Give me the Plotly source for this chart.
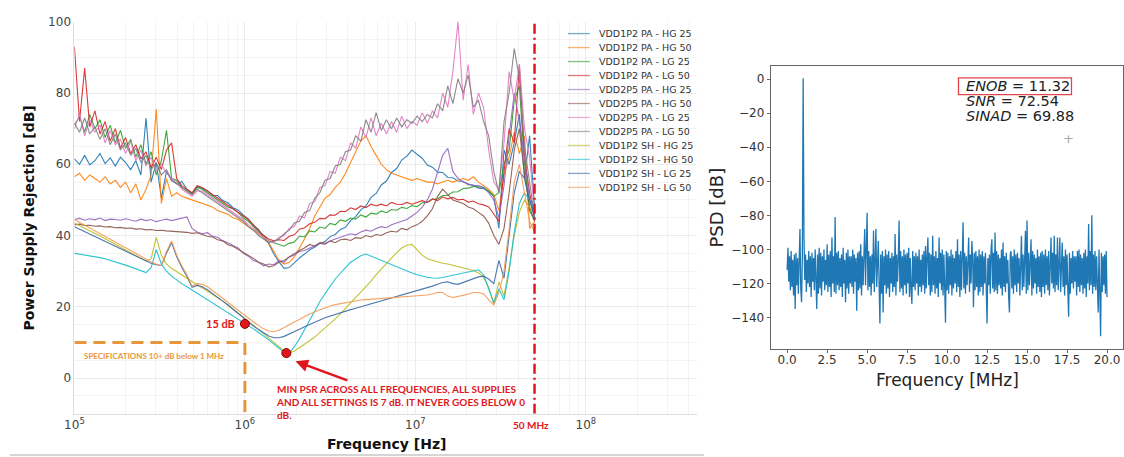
import math
import plotly.graph_objects as go

# ---------------- Left chart: PSR vs frequency ----------------
# frequency grid (log10 of Hz) on which the curves were read off the picture
LOG_FREQ = [round(5.0 + 0.03 * i, 2) for i in range(91)]

VDD1P2_PA_HG25 = [61.5, 60.0, 62.5, 59.8, 61.0, 63.0, 60.2, 61.8, 59.5, 62.0,
                  60.5, 58.5, 61.0, 57.0, 73.0, 55.0, 60.5, 50.5, 58.0, 55.5,
                  54.5, 55.2, 53.0, 51.8, 53.8, 53.2, 52.6, 51.3, 51.2, 49.8,
                  49.2, 47.8, 47.2, 45.8, 44.7, 42.8, 41.7, 39.3, 37.7, 34.8,
                  32.6, 30.8, 31.0, 32.3, 33.7, 34.8, 36.0, 36.8, 37.8, 38.3,
                  39.7, 40.3, 41.7, 42.3, 44.2, 45.3, 47.2, 48.3, 50.7, 51.8,
                  54.2, 55.3, 57.7, 58.8, 61.2, 62.3, 64.0, 62.8, 61.7, 59.8,
                  59.2, 57.8, 57.7, 56.3, 56.2, 55.3, 55.2, 54.3, 54.2, 53.3,
                  53.2, 52.3, 51.0, 42.0, 64.0, 60.0, 66.0, 74.0, 56.0, 68.0,
                  47.0]
VDD1P2_PA_HG50 = [56.5, 57.5, 55.5, 57.0, 56.0, 55.0, 56.5, 54.5, 55.5, 53.5,
                  55.0, 52.0, 54.5, 50.0, 53.0, 57.0, 75.5, 49.0, 56.0, 51.0,
                  52.0, 51.0, 50.5, 50.0, 49.5, 49.0, 48.5, 48.0, 47.0, 46.5,
                  46.0, 45.0, 44.5, 43.5, 42.5, 41.5, 40.5, 39.5, 38.0, 35.5,
                  33.0, 32.0, 32.5, 34.0, 36.5, 39.0, 42.0, 45.5, 48.0, 50.5,
                  51.5, 53.5, 55.0, 57.5, 60.5, 63.5, 66.5, 68.0, 65.0, 62.5,
                  60.0, 58.5, 57.5, 57.0, 56.5, 56.0, 55.5, 56.0, 55.5, 55.0,
                  55.0, 54.5, 55.0, 55.5, 55.0, 55.5, 56.0, 55.5, 56.5, 55.0,
                  54.0, 53.0, 51.5, 47.0, 57.0, 62.0, 69.0, 63.0, 68.0, 42.0,
                  44.0]
VDD1P2_PA_LG25 = [71.0, 73.5, 69.0, 74.0, 70.0, 72.5, 67.5, 71.0, 66.0, 69.5,
                  64.5, 67.0, 62.0, 65.5, 60.0, 63.5, 57.0, 61.0, 69.5, 56.0,
                  55.5, 53.5, 52.5, 51.5, 53.5, 53.0, 52.0, 51.0, 50.0, 49.0,
                  48.0, 47.5, 46.5, 45.0, 44.0, 42.5, 41.0, 40.0, 38.5, 38.0,
                  37.5, 37.0, 37.8, 38.2, 39.8, 39.6, 41.3, 41.0, 42.4, 42.0,
                  43.4, 43.0, 44.4, 44.0, 44.9, 44.6, 45.8, 45.2, 46.3, 46.0,
                  46.9, 46.4, 47.3, 47.1, 47.9, 47.6, 48.4, 48.1, 49.2, 49.3,
                  50.2, 50.3, 51.2, 51.3, 52.2, 52.3, 53.2, 53.3, 53.8, 53.7,
                  53.5, 52.5, 51.0, 52.0, 60.0, 64.0, 78.0, 82.0, 60.0, 47.0,
                  44.0]
VDD1P2_PA_LG50 = [93.0, 72.0, 87.0, 70.5, 75.0, 68.5, 72.0, 66.5, 70.0, 64.5,
                  67.5, 63.0, 65.5, 61.5, 63.5, 59.0, 62.0, 58.5, 64.0, 66.0,
                  56.0, 54.0, 53.0, 52.0, 54.0, 53.5, 52.5, 51.5, 50.5, 49.5,
                  48.5, 47.5, 46.5, 45.5, 44.5, 43.0, 41.5, 40.0, 39.0, 38.5,
                  38.8, 38.6, 39.8, 40.2, 41.8, 42.2, 43.3, 43.7, 44.8, 44.7,
                  45.8, 45.7, 46.8, 46.7, 47.8, 47.3, 48.3, 47.8, 48.8, 48.3,
                  48.8, 48.3, 49.3, 48.8, 48.7, 49.3, 48.8, 49.3, 49.8, 49.3,
                  50.3, 49.8, 50.8, 50.3, 50.7, 50.0, 50.2, 49.4, 49.7, 48.9,
                  48.6, 48.0, 46.0, 44.0, 58.0, 70.0, 66.0, 88.0, 62.0, 52.0,
                  45.0]
VDD2P5_PA_HG25 = [44.5, 44.8, 44.3, 44.7, 44.4, 44.9, 44.2, 44.6, 44.5, 44.3,
                  44.7, 44.4, 44.0, 44.6, 44.2, 44.5, 43.9, 44.3, 44.6, 44.2,
                  44.5, 44.8, 45.2, 42.0, 41.0, 40.5, 40.8, 39.8, 39.5, 38.5,
                  38.0, 37.2, 36.5, 35.0, 34.2, 33.0, 32.5, 31.5, 32.0, 31.8,
                  33.0, 32.5, 34.0, 34.5, 35.5, 35.8, 36.5, 37.0, 37.8, 37.5,
                  38.5, 39.0, 39.5, 40.0, 40.5, 40.2, 41.0, 41.5, 41.2, 42.0,
                  42.5, 42.2, 43.0, 43.5, 44.0, 44.5, 45.5, 46.5, 48.0, 50.0,
                  53.0, 58.0, 62.5, 64.5, 58.0, 56.0, 55.0, 54.5, 54.0, 54.0,
                  53.5, 52.0, 50.0, 45.0, 54.0, 68.0, 80.0, 72.0, 62.0, 50.0,
                  45.0]
VDD2P5_PA_HG50 = [43.0, 43.2, 42.8, 42.9, 42.6, 42.7, 42.4, 42.5, 42.2, 42.3,
                  42.0, 42.1, 41.8, 41.9, 41.6, 41.7, 41.4, 41.5, 41.3, 41.2,
                  41.0, 41.1, 40.9, 40.6, 40.8, 40.3, 39.8, 39.6, 38.8, 38.5,
                  37.4, 37.0, 36.2, 35.3, 34.5, 33.6, 32.5, 32.0, 31.2, 31.5,
                  32.5, 33.0, 34.0, 35.0, 35.8, 36.5, 37.5, 37.0, 38.0, 37.8,
                  38.5, 38.0, 38.8, 39.0, 38.6, 39.4, 39.2, 40.0, 39.6, 40.3,
                  40.0, 40.8, 41.2, 41.0, 42.0, 41.6, 42.5, 43.0, 44.0, 45.5,
                  47.5, 51.0, 53.0, 51.5, 50.0, 49.5, 49.0, 48.0, 47.5, 46.5,
                  45.5, 43.5, 40.0, 37.5, 42.0, 52.0, 64.0, 70.0, 57.0, 48.0,
                  44.0]
VDD2P5_PA_LG25 = [70.0, 74.0, 68.0, 72.5, 69.0, 71.0, 66.0, 69.5, 65.5, 67.0,
                  63.0, 66.5, 61.0, 64.0, 59.5, 62.0, 58.0, 60.0, 57.5, 56.0,
                  55.0, 53.0, 52.0, 51.0, 52.5, 52.5, 51.5, 50.5, 49.5, 48.5,
                  47.5, 46.5, 45.5, 44.5, 43.0, 42.0, 40.5, 39.5, 38.5, 38.0,
                  39.5, 40.0, 42.0, 42.5, 45.5, 45.0, 49.0, 49.5, 53.5, 54.0,
                  58.0, 57.5, 62.0, 61.0, 66.0, 64.5, 70.5, 67.5, 73.0, 68.0,
                  71.5, 68.5, 72.0, 69.0, 73.5, 70.0, 72.0, 71.0, 74.5, 71.5,
                  75.0, 73.0, 80.0, 76.0, 86.0, 100.0, 78.0, 88.0, 74.0, 80.0,
                  76.0, 64.0, 55.0, 53.0, 66.0, 86.0, 78.0, 88.0, 70.0, 62.0,
                  46.0]
VDD2P5_PA_LG50 = [71.5, 69.0, 73.0, 68.5, 70.5, 67.0, 70.0, 65.5, 68.5, 64.0,
                  66.0, 62.5, 64.5, 60.5, 62.5, 58.5, 60.5, 57.0, 58.5, 55.5,
                  54.5, 53.5, 52.5, 51.5, 53.0, 52.0, 51.0, 50.0, 49.0, 48.0,
                  47.0, 46.0, 45.0, 44.0, 42.5, 41.5, 40.0, 39.0, 38.0, 38.5,
                  39.0, 40.5, 41.5, 43.5, 44.0, 46.5, 47.0, 50.5, 52.0, 55.5,
                  56.0, 59.5, 60.0, 63.5, 64.0, 68.0, 66.5, 72.5, 69.0, 74.5,
                  69.5, 72.5, 70.0, 73.0, 70.5, 72.5, 71.5, 73.5, 72.0, 74.0,
                  73.0, 77.0, 75.0, 82.0, 77.0, 84.0, 80.0, 85.0, 76.0, 78.0,
                  72.0, 68.0, 58.0, 52.0, 72.0, 80.0, 92.5, 84.0, 65.0, 55.0,
                  45.0]
VDD1P2_SH_HG25 = [43.5, 42.8, 42.0, 41.3, 40.6, 39.9, 39.1, 38.3, 37.5, 36.7,
                  36.0, 35.2, 34.4, 33.6, 32.8, 33.5, 39.5, 34.5, 32.0, 30.8,
                  29.8, 28.9, 28.0, 27.1, 26.2, 25.4, 24.5, 23.6, 22.6, 21.6,
                  20.5, 19.4, 18.3, 17.2, 16.0, 14.8, 13.6, 12.4, 11.2, 10.0,
                  8.8, 7.6, 7.0, 7.6, 8.5, 9.5, 10.5, 11.5, 12.8, 14.0,
                  15.3, 16.6, 18.0, 19.5, 21.0, 22.5, 24.0, 25.5, 27.2, 29.0,
                  30.6, 32.2, 33.8, 35.2, 36.5, 37.3, 37.5, 36.0, 34.5, 33.5,
                  33.0, 32.6, 32.2, 32.0, 31.6, 31.3, 31.0, 30.6, 30.2, 29.5,
                  28.3, 25.5, 21.0, 27.0, 23.0, 31.0, 40.0, 46.5, 50.0, 48.0,
                  46.0]
VDD1P2_SH_HG50 = [35.0, 34.8, 34.6, 34.4, 34.1, 33.8, 33.5, 33.1, 32.7, 32.2,
                  31.7, 31.2, 30.6, 30.0, 29.6, 31.0, 36.0, 32.0, 30.0, 28.6,
                  27.5, 26.5, 25.6, 24.7, 23.8, 23.0, 22.1, 21.2, 20.3, 19.4,
                  18.5, 17.6, 16.7, 15.8, 14.8, 13.8, 12.8, 11.8, 10.7, 9.5,
                  8.3, 7.2, 7.0, 8.8, 11.0, 13.5, 16.2, 18.8, 21.5, 23.8,
                  25.8, 27.8, 29.5, 31.0, 32.5, 33.5, 34.3, 34.8, 34.2, 33.5,
                  33.0, 32.3, 31.8, 31.2, 30.5, 30.0, 29.5, 29.0, 28.6, 28.3,
                  28.1, 28.0, 28.2, 28.5, 28.8, 29.2, 29.5, 29.8, 30.2, 30.4,
                  29.0, 25.0, 21.0, 25.0, 22.0, 30.0, 41.0, 49.0, 52.0, 50.0,
                  47.0]
VDD1P2_SH_LG25 = [42.5, 41.8, 41.1, 40.4, 39.7, 39.0, 38.3, 37.6, 36.9, 36.2,
                  35.5, 34.8, 34.1, 33.4, 32.8, 32.2, 31.8, 31.6, 35.0, 38.0,
                  34.0, 31.0, 28.5, 25.5, 26.0, 25.6, 24.8, 23.8, 22.7, 21.6,
                  20.5, 19.3, 18.1, 16.9, 15.7, 14.6, 13.6, 12.6, 11.8, 11.3,
                  11.3, 11.7, 12.3, 13.0, 13.7, 14.4, 15.1, 15.7, 16.3, 16.9,
                  17.4, 17.9, 18.4, 18.8, 19.2, 19.6, 20.0, 20.4, 20.8, 21.2,
                  21.6, 22.0, 22.4, 22.8, 23.2, 23.6, 24.0, 24.4, 24.8, 25.3,
                  25.8, 26.3, 26.8, 27.0, 26.5, 26.3, 26.8, 27.4, 28.0, 28.4,
                  28.6, 27.8, 26.5, 33.0, 28.0, 40.0, 52.0, 58.0, 56.0, 50.0,
                  45.0]
VDD1P2_SH_LG50 = [44.5, 43.7, 42.9, 42.1, 41.3, 40.5, 39.7, 38.9, 38.1, 37.3,
                  36.5, 35.7, 34.9, 34.1, 33.3, 32.6, 32.0, 31.6, 35.5, 38.5,
                  34.5, 31.5, 29.0, 25.8, 26.5, 26.3, 25.6, 24.6, 23.5, 22.4,
                  21.2, 20.1, 19.0, 17.8, 16.7, 15.6, 14.7, 13.8, 13.2, 13.0,
                  13.4, 14.2, 15.0, 15.8, 16.6, 17.3, 18.0, 18.6, 19.2, 19.7,
                  20.2, 20.6, 20.9, 21.2, 21.5, 21.7, 21.9, 22.0, 22.1, 22.2,
                  22.3, 22.4, 22.5, 22.6, 22.7, 22.8, 22.9, 23.0, 23.1, 23.3,
                  23.6, 24.0, 24.0, 23.0, 22.6, 22.8, 23.2, 23.6, 24.0, 24.0,
                  23.6, 22.0, 20.5, 24.0, 30.0, 42.0, 55.0, 60.0, 52.0, 44.0,
                  41.0]

SERIES_NAMES = ["VDD1P2 PA - HG 25", "VDD1P2 PA - HG 50", "VDD1P2 PA - LG 25",
                "VDD1P2 PA - LG 50", "VDD2P5 PA - HG 25", "VDD2P5 PA - HG 50",
                "VDD2P5 PA - LG 25", "VDD2P5 PA - LG 50", "VDD1P2 SH - HG 25",
                "VDD1P2 SH - HG 50", "VDD1P2 SH - LG 25", "VDD1P2 SH - LG 50"]
SERIES_VALUES = [VDD1P2_PA_HG25, VDD1P2_PA_HG50, VDD1P2_PA_LG25, VDD1P2_PA_LG50,
                 VDD2P5_PA_HG25, VDD2P5_PA_HG50, VDD2P5_PA_LG25, VDD2P5_PA_LG50,
                 VDD1P2_SH_HG25, VDD1P2_SH_HG50, VDD1P2_SH_LG25, VDD1P2_SH_LG50]
SERIES_COLORS = ["#1f77b4", "#ff7f0e", "#2ca02c", "#d62728", "#9467bd", "#8c564b",
                 "#e377c2", "#7f7f7f", "#bcbd22", "#17becf", "#3b6aa8", "#f39a55"]

# highlighted points / limits
MARK_FREQ = [1.0e6, 1.75e6]
MARK_PSR = [15.2, 7.0]
SPEC_FREQ = [1.0e5, 1.0e6, 1.0e6]
SPEC_PSR = [10, 10, -10]
LIMIT_FREQ = [5.0e7, 5.0e7]
LIMIT_PSR = [-10, 100]

# ---------------- Right chart: PSD ----------------
PSD_FREQ_MHZ = [round(0.05 * i, 2) for i in range(401)]
PSD_DB = [
    -112, -99, -119, -104, -124, -101, -122, -106, -127, -103, -135, -102, -121, -105, -126, -101, -88, -123, -131, -104,
    0.5, -92, -118, -103, -125, -106, -120, -101, -122, -104, -128, -102, -119, -105, -124, -100, -121, -135, -103, -126,
    -99, -123, -102, -127, -104, -119, -100, -124, -106, -121, -97, -125, -103, -122, -101, -128, -93, -120, -104, -125,
    -81, -126, -102, -121, -101, -124, -105, -122, -103, -128, -99, -120, -106, -131, -102, -123, -100, -126, -104, -120,
    -104, -122, -100, -126, -103, -119, -105, -136, -102, -124, -101, -123, -97, -127, -104, -121, -103, -88, -121, -100,
    -78.5, -124, -101, -122, -104, -127, -103, -120, -89, -125, -102, -88, -122, -105, -95, -121, -143.5, -103, -126, -101,
    -137, -104, -121, -100, -126, -103, -123, -101, -128, -105, -120, -102, -125, -104, -122, -91, -127, -103, -119, -106,
    -83, -125, -101, -123, -104, -127, -100, -121, -103, -126, -102, -120, -99, -128, -105, -124, -132, -101, -122, -104,
    -124, -102, -120, -104, -127, -100, -122, -106, -125, -103, -121, -101, -126, -98, -123, -104, -93, -121, -102, -127,
    -103, -125, -92, -121, -104, -126, -101, -123, -105, -128, -93, -120, -102, -124, -100, -127, -103, -122, -143, -101,
    -124, -102, -126, -104, -121, -100, -127, -103, -123, -105, -120, -101, -125, -94, -122, -103, -128, -101, -124, -104,
    -84, -123, -102, -126, -104, -121, -100, -93, -125, -103, -120, -95, -106, -134, -102, -124, -101, -122, -104, -127,
    -100, -125, -103, -122, -101, -127, -104, -120, -102, -124, -143.5, -105, -121, -103, -126, -100, -94, -123, -102, -125,
    -90, -124, -101, -126, -103, -121, -105, -123, -100, -127, -96, -122, -104, -125, -102, -120, -106, -128, -137, -103,
    -101, -123, -104, -126, -100, -121, -103, -125, -102, -120, -105, -127, -101, -92, -124, -103, -122, -100, -89, -126,
    -83, -124, -102, -121, -104, -94, -127, -101, -123, -103, -120, -105, -126, -100, -122, -104, -125, -102, -128, -101,
    -122, -103, -126, -100, -121, -104, -124, -101, -127, -105, -93, -120, -102, -123, -92, -125, -103, -121, -93, -124,
    -102, -93, -125, -101, -96, -122, -104, -127, -100, -121, -103, -124, -139.5, -102, -126, -105, -120, -101, -123, -104,
    -119, -104, -127, -101, -122, -100, -125, -103, -121, -105, -126, -102, -123, -100, -128, -104, -120, -85, -124, -101,
    -121, -80, -126, -103, -122, -101, -124, -104, -127, -137, -100, -123, -151, -102, -125, -104, -121, -103, -126, -101,
    -128]

W, H = 1124, 457


def px(x):
    return x / W


def py(y):
    return 1 - y / H


fig = go.Figure()

freq_hz = [10 ** e for e in LOG_FREQ]
for name, vals, col in zip(SERIES_NAMES, SERIES_VALUES, SERIES_COLORS):
    fig.add_trace(go.Scatter(x=freq_hz, y=vals, mode="lines", name=name,
                             line=dict(color=col, width=1.1), opacity=0.9,
                             xaxis="x", yaxis="y", showlegend=False))

fig.add_trace(go.Scatter(x=SPEC_FREQ, y=SPEC_PSR, mode="lines", showlegend=False,
                         line=dict(color="#e8963c", width=3, dash="12px,7px"),
                         xaxis="x", yaxis="y"))
fig.add_trace(go.Scatter(x=LIMIT_FREQ, y=LIMIT_PSR, mode="lines", showlegend=False,
                         line=dict(color="#e0161c", width=2.5, dash="10px,4px,2px,4px"),
                         xaxis="x", yaxis="y", cliponaxis=False))
fig.add_trace(go.Scatter(x=MARK_FREQ, y=MARK_PSR, mode="markers", showlegend=False,
                         marker=dict(color="#e0161c", size=9,
                                     line=dict(color="#8b0000", width=1)),
                         xaxis="x", yaxis="y"))

fig.add_trace(go.Scatter(x=PSD_FREQ_MHZ, y=PSD_DB, mode="lines", showlegend=False,
                         line=dict(color="#1f77b4", width=1.3),
                         xaxis="x2", yaxis="y2"))

RED = "#e0161c"
ORANGE = "#e8963c"
anns = []
shapes = []


def ptext(text, x, y, size, color="#222", family="DejaVu Sans", xa="center",
          ya="middle", angle=0):
    anns.append(dict(text=text, xref="paper", yref="paper", x=px(x), y=py(y),
                     xanchor=xa, yanchor=ya, textangle=angle, showarrow=False,
                     font=dict(family=family, size=size, color=color)))


# manual legend
for k, (name, col) in enumerate(zip(SERIES_NAMES, SERIES_COLORS)):
    yc = 27 + k * 14.2
    shapes.append(dict(type="line", xref="paper", yref="paper",
                       x0=px(563), x1=px(585), y0=py(yc), y1=py(yc),
                       line=dict(color=col, width=1.3), opacity=0.6))
    ptext(name, 592, yc, 9.5, color="#333", xa="left")

# left chart texts
ptext("<b>Power Supply Rejection [dB]</b>", 19, 214, 14, color="#111", angle=-90)
ptext("<b>Frequency [Hz]</b>", 380, 444, 14, color="#111")
anns.append(dict(text="<b>15 dB</b>", xref="x", yref="y", x=6.0, y=15.2,
                 xanchor="right", yanchor="middle", xshift=-8, showarrow=False,
                 font=dict(family="Lato", size=11, color=RED)))
anns.append(dict(text="<b>SPECIFICATIONS 10+ dB below 1 MHz</b>", xref="x", yref="y",
                 x=5.047, y=6.3, xanchor="left", yanchor="middle", showarrow=False,
                 font=dict(family="Lato", size=8, color=ORANGE)))
anns.append(dict(text="", xref="x", yref="y", x=6.297, y=4.7, axref="x", ayref="y",
                 ax=6.61, ay=-0.8, showarrow=True, arrowhead=2, arrowsize=1,
                 arrowwidth=2.5, arrowcolor=RED))
anns.append(dict(text="<b>MIN PSR ACROSS ALL FREQUENCIES, ALL SUPPLIES<br>"
                      "AND ALL SETTINGS IS 7 dB. IT NEVER GOES BELOW 0<br>dB.</b>",
                 xref="x", yref="paper", x=6.169, y=py(380), xanchor="left",
                 yanchor="top", align="left", showarrow=False,
                 font=dict(family="Lato", size=10, color=RED)))
anns.append(dict(text="<b>50 MHz</b>", xref="x", yref="paper", x=math.log10(5e7),
                 xshift=-4, y=py(425), xanchor="center", yanchor="middle",
                 showarrow=False, font=dict(family="Lato", size=10, color=RED)))

# right chart texts
ptext("PSD [dB]", 713, 204, 18, angle=-90)
ptext("Frequency [MHz]", 946, 379, 17)
for txt, yc in [("<i>ENOB</i> = 11.32", 80.5), ("<i>SNR</i> = 72.54", 95.5),
                ("<i>SINAD</i> = 69.88", 110.5)]:
    ptext(txt, 963, yc, 14.5, xa="left")
ptext("+", 1068, 134, 13, color="#aaa")
shapes.append(dict(type="rect", xref="paper", yref="paper", x0=px(957), x1=px(1071),
                   y0=py(89), y1=py(72), line=dict(color="#e0454b", width=1.3)))
shapes.append(dict(type="line", xref="paper", yref="paper", x0=0, x1=px(700),
                   y0=py(455), y1=py(455), line=dict(color="#d5d5d5", width=2)))

fig.update_layout(
    width=W, height=H, margin=dict(l=0, r=0, t=0, b=0),
    paper_bgcolor="white", plot_bgcolor="white", showlegend=False,
    annotations=anns, shapes=shapes,
    xaxis=dict(domain=[px(65), px(693)], type="log", range=[5, 8.651], anchor="y",
               tickvals=[1e5, 1e6, 1e7, 1e8],
               ticktext=["10<sup>5</sup>", "10<sup>6</sup>", "10<sup>7</sup>", "10<sup>8</sup>"],
               showgrid=True, gridcolor="#ebebeb", gridwidth=1,
               minor=dict(showgrid=True, gridcolor="#f3f3f3", ticks="", dtick="D1"),
               showline=True, linecolor="#dddddd", zeroline=False, ticks="",
               tickfont=dict(family="DejaVu Sans", size=12, color="#444")),
    yaxis=dict(domain=[py(413), py(15)], range=[-10, 100], anchor="x",
               tickvals=[0, 20, 40, 60, 80, 100],
               showgrid=True, gridcolor="#ebebeb", gridwidth=1,
               minor=dict(showgrid=True, gridcolor="#f3f3f3", dtick=5, ticks=""),
               showline=True, linecolor="#dddddd", zeroline=False, ticks="",
               tickfont=dict(family="DejaVu Sans", size=12, color="#444")),
    xaxis2=dict(domain=[px(768), px(1123)], range=[-1, 21], anchor="y2",
                tick0=0, dtick=2.5, tickformat=".1f", showgrid=False,
                showline=True, mirror=True, linecolor="#666", linewidth=1,
                ticks="outside", ticklen=3.5, tickcolor="#666", zeroline=False,
                ticklabelstandoff=-4,
                tickfont=dict(family="DejaVu Sans", size=12, color="#333")),
    yaxis2=dict(domain=[py(347), py(60)], range=[-158.3, 7.7], anchor="x2",
                tick0=0, dtick=20, showgrid=False,
                showline=True, mirror=True, linecolor="#666", linewidth=1,
                ticks="outside", ticklen=3.5, tickcolor="#666", zeroline=False,
                tickfont=dict(family="DejaVu Sans", size=12, color="#333")),
)

# the default page style puts an 8px margin round the body; drop it so the
# figure fills the window exactly
fig.write_html("out.html", config={"displayModeBar": False},
               post_script="document.body.style.margin='0';"
                           "document.body.style.overflow='hidden';")
